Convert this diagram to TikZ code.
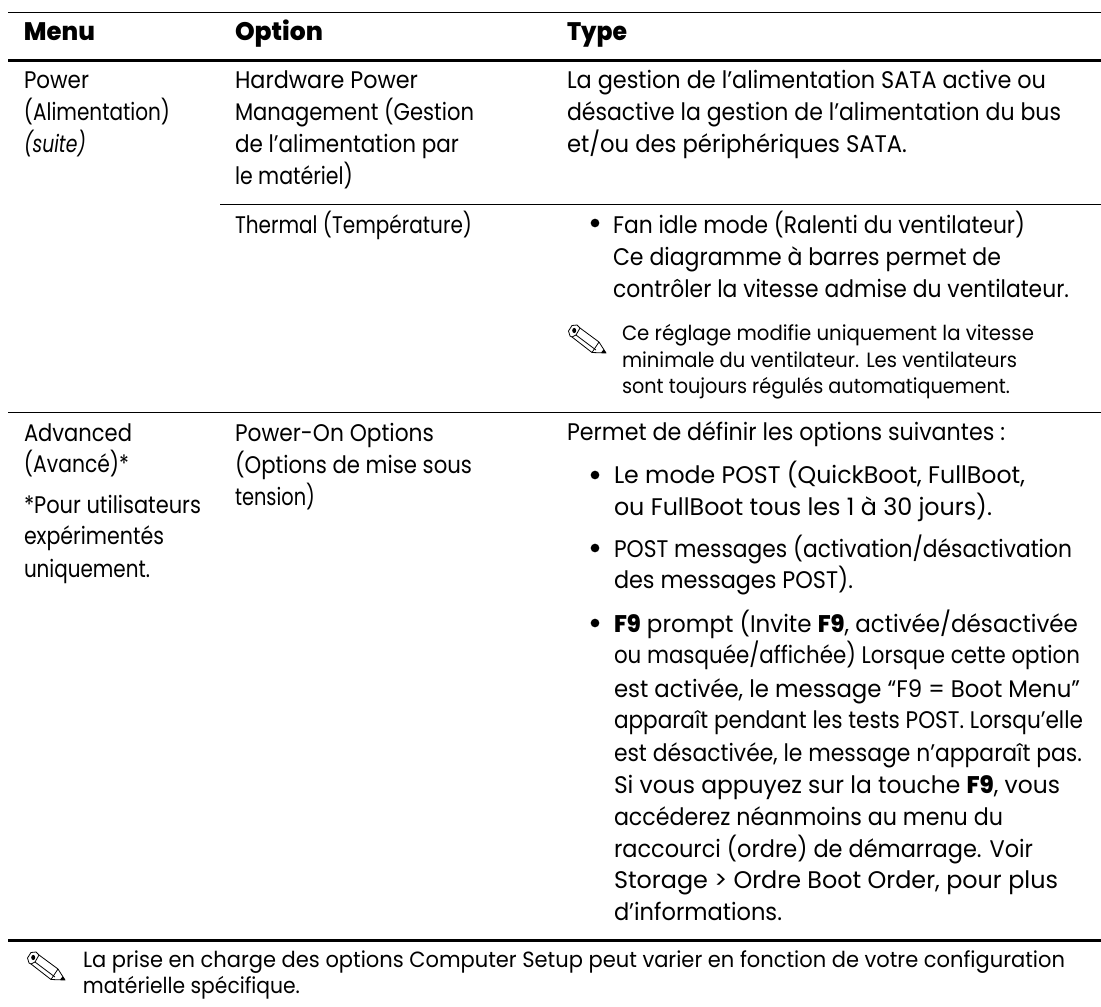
\documentclass[tikz,border=0pt]{standalone}
\usepackage{fontspec}
\usepackage{graphicx}
\setmainfont{Poppins}[BoldFont={Poppins ExtraBold}]
\tikzset{x=0.75pt,y=-0.75pt,
 body/.style={anchor=base west,inner sep=0pt,outer sep=0pt,font=\fontsize{18}{20}\selectfont,text=black},
 small/.style={body,font=\fontsize{15.5}{17}\selectfont},
 foot/.style={body,font=\fontsize{16.5}{17}\selectfont},
 head/.style={body,font=\fontsize{19}{20}\selectfont\bfseries},
 dot/.style={circle,fill=black,inner sep=0pt,minimum size=6.5pt},
 thinrule/.style={line width=0.9pt,black},
 thickrule/.style={line width=2.2pt,black},
 pencil/.style={line width=0.6pt,black,line join=round}}
\newcommand{\tline}[6][body]{\node[#1] (#2) at (#3,#4) {\resizebox{\dimexpr 0.75pt*\numexpr #5-#3\relax\relax}{\height}{#6}};}
\newcommand{\pencilicon}[2]{%
 \begin{scope}[shift={(#1,#2)}]
  \draw[pencil] (2,11) -- (0.5,6) -- (4,0.5) -- (9,0) -- (12,3) -- (31,17) -- (38,28) -- (24,27.5) -- (4,12) -- cycle;
  \draw[pencil] (12,3) -- (8,10) -- (4,12);
  \draw[pencil] (8,10) -- (28,25);
  \draw[pencil] (31,17) -- (24,27.5);
  \fill[black] (6.2,5.5) ellipse [x radius=2,y radius=2.6];
  \fill[black] (38,28) -- (33,27.7) -- (35.7,24.3) -- cycle;
 \end{scope}}
\begin{document}
\begin{tikzpicture}
\useasboundingbox (0,0) rectangle (1101,1007);
\coordinate (rl) at (8,0);
\coordinate (rr) at (1101,0);
\coordinate (rm) at (220,0);
\draw[thinrule] (rl |- 0,12.5) -- (rr |- 0,12.5);
\draw[thickrule] (rl |- 0,60.5) -- (rr |- 0,60.5);
\draw[thinrule] (rm |- 0,204.5) -- (rr |- 0,204.5);
\draw[thinrule] (rl |- 0,412.5) -- (rr |- 0,412.5);
\draw[thickrule] (rl |- 0,940.5) -- (rr |- 0,940.5);
\tline[head]{h1}{24}{40}{95}{Menu}
\tline[head]{h2}{235}{40}{323}{Option}
\tline[head]{h3}{567}{40}{627}{Type}
\tline{a1}{24}{88}{89}{Power}
\tline{a2}{24}{120}{170}{(Alimentation)}
\tline{a3}{24}{152}{86}{\itshape (suite)}
\tline{b1}{235}{88}{418}{Hardware Power}
\tline{b2}{235}{120}{474}{Management (Gestion}
\tline{b3}{235}{152}{459}{de l’alimentation par}
\tline{b4}{235}{184}{353}{le matériel)}
\tline{c1}{567}{88}{1046}{La gestion de l’alimentation SATA active ou}
\tline{c2}{567}{120}{1061}{désactive la gestion de l’alimentation du bus}
\tline{c3}{567}{152}{907}{et/ou des périphériques SATA.}
\tline{b5}{235}{233}{472}{Thermal (Température)}
\node[dot] (d1) at (595,223) {};
\tline{c4}{613}{233}{1025}{Fan idle mode (Ralenti du ventilateur)}
\tline{c5}{613}{265}{1001}{Ce diagramme à barres permet de}
\tline{c6}{613}{297}{1069}{contrôler la vitesse admise du ventilateur.}
\pencilicon{568}{325}
\tline[small]{n1}{622}{340}{1034}{Ce réglage modifie uniquement la vitesse}
\tline[small]{n2}{622}{367}{1017}{minimale du ventilateur. Les ventilateurs}
\tline[small]{n3}{622}{393}{1010}{sont toujours régulés automatiquement.}
\tline{a4}{24}{441}{132}{Advanced}
\tline{a5}{24}{472}{129}{(Avancé)*}
\tline{a6}{24}{513}{201}{*Pour utilisateurs}
\tline{a7}{24}{544}{164}{expérimentés}
\tline{a8}{24}{577}{150}{uniquement.}
\tline{b6}{235}{441}{434}{Power-On Options}
\tline{b7}{235}{473}{472}{(Options de mise sous}
\tline{b8}{235}{505}{315}{tension)}
\tline{e0}{567}{440}{1005}{Permet de définir les options suivantes :}
\node[dot] (d2) at (595,475) {};
\tline{e1}{614}{483}{1025}{Le mode POST (QuickBoot, FullBoot,}
\tline{e2}{614}{515}{992}{ou FullBoot tous les 1 à 30 jours).}
\node[dot] (d3) at (595,548) {};
\tline{e3}{614}{557}{1072}{POST messages (activation/désactivation}
\tline{e4}{614}{588}{853}{des messages POST).}
\node[dot] (d4) at (595,623) {};
\tline{e5}{614}{632}{1078}{\textbf{F9} prompt (Invite \textbf{F9}, activée/désactivée}
\tline{e6}{614}{663}{1080}{ou masquée/affichée) Lorsque cette option}
\tline{e7}{614}{697}{1080}{est activée, le message “F9 = Boot Menu”}
\tline{e8}{614}{728}{1083}{apparaît pendant les tests POST. Lorsqu’elle}
\tline{e9}{614}{761}{1082}{est désactivée, le message n’apparaît pas.}
\tline{e10}{614}{793}{1060}{Si vous appuyez sur la touche \textbf{F9}, vous}
\tline{e11}{614}{825}{1003}{accéderez néanmoins au menu du}
\tline{e12}{614}{857}{1033}{raccourci (ordre) de démarrage. Voir}
\tline{e13}{614}{888}{1058}{Storage > Ordre Boot Order, pour plus}
\tline{e14}{614}{920}{782}{d’informations.}
\pencilicon{27}{952}
\tline[foot]{f1}{83}{967}{1065}{La prise en charge des options Computer Setup peut varier en fonction de votre configuration}
\tline[foot]{f2}{83}{993}{300}{matérielle spécifique.}
\end{tikzpicture}
\end{document}
